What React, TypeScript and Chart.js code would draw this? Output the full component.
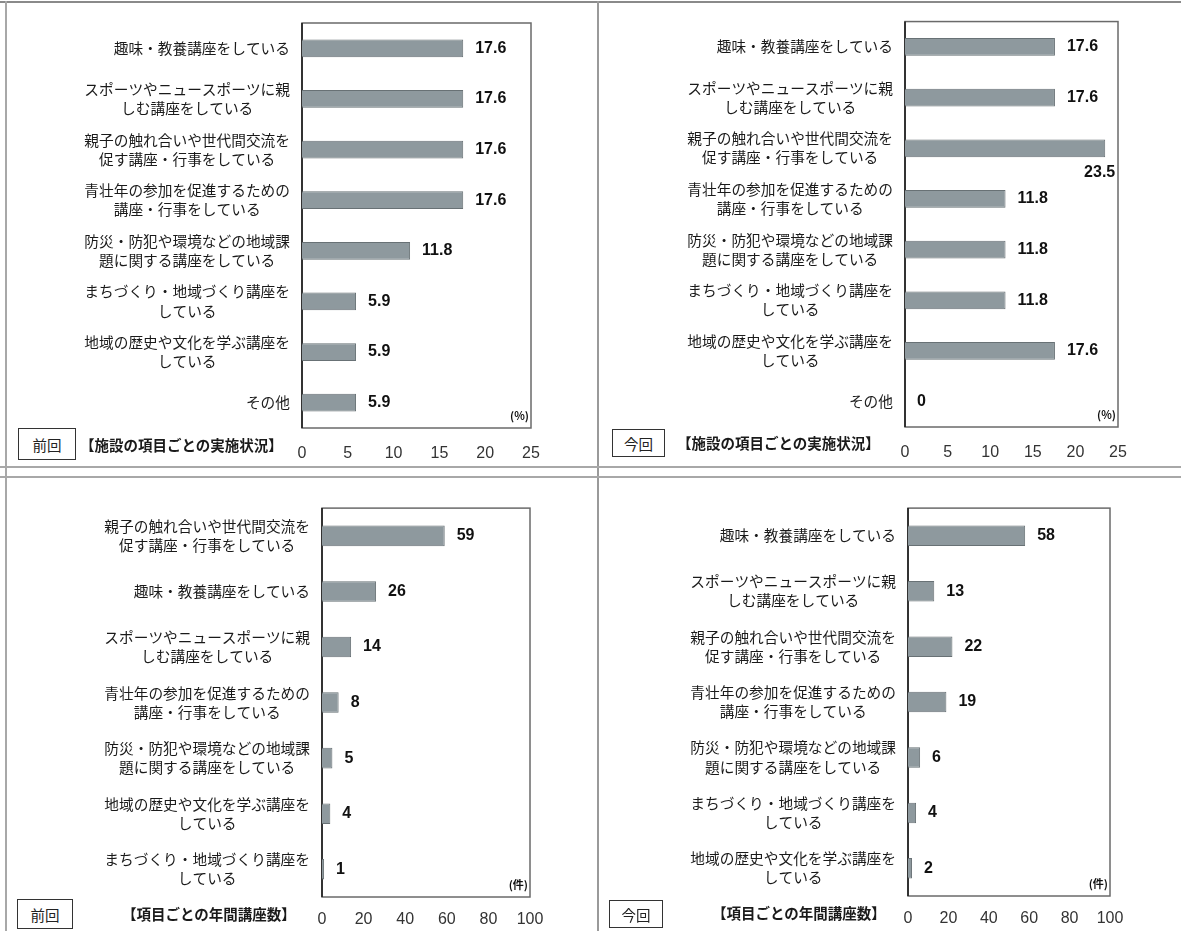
import React, { useEffect, useRef } from 'react';
import { Chart, registerables } from 'chart.js';

Chart.register(...registerables);

// ---- category labels ----
const LBL_HOBBY: string | string[] = '趣味・教養講座をしている';
const LBL_SPORTS = ['スポーツやニュースポーツに親', 'しむ講座をしている'];
const LBL_FAMILY = ['親子の触れ合いや世代間交流を', '促す講座・行事をしている'];
const LBL_YOUTH = ['青壮年の参加を促進するための', '講座・行事をしている'];
const LBL_DISASTER = ['防災・防犯や環境などの地域課', '題に関する講座をしている'];
const LBL_TOWN = ['まちづくり・地域づくり講座を', 'している'];
const LBL_HISTORY = ['地域の歴史や文化を学ぶ講座を', 'している'];
const LBL_OTHER = 'その他';

// ---- data ----
const facilityCategories = [LBL_HOBBY, LBL_SPORTS, LBL_FAMILY, LBL_YOUTH, LBL_DISASTER, LBL_TOWN, LBL_HISTORY, LBL_OTHER];
const facilityPrevValues = [17.6, 17.6, 17.6, 17.6, 11.8, 5.9, 5.9, 5.9];
const facilityCurrValues = [17.6, 17.6, 23.5, 11.8, 11.8, 11.8, 17.6, 0];

const coursePrevCategories = [LBL_FAMILY, LBL_HOBBY, LBL_SPORTS, LBL_YOUTH, LBL_DISASTER, LBL_HISTORY, LBL_TOWN];
const coursePrevValues = [59, 26, 14, 8, 5, 4, 1];
const courseCurrCategories = [LBL_HOBBY, LBL_SPORTS, LBL_FAMILY, LBL_YOUTH, LBL_DISASTER, LBL_TOWN, LBL_HISTORY];
const courseCurrValues = [58, 13, 22, 19, 6, 4, 2];

const pctAxis = { max: 25, step: 5 };
const countAxis = { max: 100, step: 20 };

const TITLE_FACILITY = '【施設の項目ごとの実施状況】';
const TITLE_COURSE = '【項目ごとの年間講座数】';
const TAG_PREV = '前回';
const TAG_CURR = '今回';
const UNIT_PCT = '(%)';
const UNIT_COUNT = '(件)';

const CJK = "'Noto Sans CJK JP', 'Noto Sans', sans-serif";
const NUM = "'Liberation Sans', Arial, sans-serif";

// pad shorter lines so that multi-line labels appear centred on each other
function centerLines(label: string | string[]): string | string[] {
  if (!Array.isArray(label)) return label;
  const max = Math.max(...label.map((l) => l.length));
  return label.map((l) => {
    const d = max - l.length;
    if (d <= 0) return l;
    return l + '\u3000'.repeat(Math.floor(d / 2)) + (d % 2 ? '\u2002' : '');
  });
}

type PanelCfg = {
  x: number; y: number; w: number; h: number;
  area: { left: number; top: number; right: number; bottom: number };
  categories: (string | string[])[];
  values: number[];
  axis: { max: number; step: number };
  tickPad: number;
  barPct: number;
  unit: string;
};

const decorPlugin = (unit: string) => ({
  id: 'decor',
  beforeDatasetsDraw(chart: any) {
    const { ctx, chartArea: a } = chart;
    ctx.save();
    ctx.strokeStyle = '#6a6a6a';
    ctx.lineWidth = 1.5;
    ctx.strokeRect(a.left, a.top, a.right - a.left, a.bottom - a.top);
    ctx.strokeStyle = '#151515';
    ctx.lineWidth = 1.5;
    ctx.beginPath();
    ctx.moveTo(a.left, a.top);
    ctx.lineTo(a.left, a.bottom);
    ctx.stroke();
    ctx.restore();
  },
  afterDatasetsDraw(chart: any) {
    const { ctx, chartArea: a } = chart;
    const meta = chart.getDatasetMeta(0);
    const data = chart.data.datasets[0].data as number[];
    ctx.save();
    ctx.fillStyle = '#111';
    ctx.font = `bold 16px ${NUM}`;
    ctx.textBaseline = 'middle';
    meta.data.forEach((bar: any, i: number) => {
      const txt = String(data[i]);
      const w = ctx.measureText(txt).width;
      let x = bar.x + 12;
      let y = bar.y;
      if (x + w > a.right) {
        ctx.textAlign = 'right';
        x = bar.x + 10;
        y = bar.y + 24;
      } else {
        ctx.textAlign = 'left';
      }
      ctx.fillText(txt, x, y);
    });
    ctx.font = `bold 11px ${CJK}`;
    ctx.textAlign = 'right';
    ctx.fillText(unit, a.right - 2, a.bottom - 12);
    ctx.restore();
  },
});

function BarPanel({ cfg }: { cfg: PanelCfg }) {
  const ref = useRef<HTMLCanvasElement>(null);
  useEffect(() => {
    const { w, h, area } = cfg;
    const chart = new Chart(ref.current as HTMLCanvasElement, {
      type: 'bar',
      data: {
        labels: cfg.categories.map(centerLines),
        datasets: [
          {
            data: cfg.values,
            backgroundColor: '#8e999e',
            borderColor: '#687175',
            borderWidth: 1,
            barPercentage: cfg.barPct,
            categoryPercentage: 1,
          },
        ],
      },
      options: {
        indexAxis: 'y',
        responsive: false,
        maintainAspectRatio: false,
        animation: false,
        layout: { padding: { top: area.top, right: w - area.right, left: 0, bottom: 0 } },
        plugins: { legend: { display: false }, tooltip: { enabled: false } },
        scales: {
          x: {
            min: 0,
            max: cfg.axis.max,
            ticks: { stepSize: cfg.axis.step, color: '#333', font: { family: NUM, size: 16 }, padding: cfg.tickPad, maxRotation: 0 },
            grid: { display: false, drawTicks: false },
            border: { display: false },
            afterFit: (s: any) => { s.height = h - area.bottom; },
          },
          y: {
            ticks: { color: '#1a1a1a', font: { family: CJK, size: 14.7, lineHeight: 1.3 }, padding: 12, autoSkip: false },
            grid: { display: false, drawTicks: false },
            border: { display: false },
            afterFit: (s: any) => { s.width = area.left; },
          },
        },
      } as any,
      plugins: [decorPlugin(cfg.unit)],
    });
    return () => chart.destroy();
  }, []);
  return (
    <div style={{ position: 'absolute', left: cfg.x, top: cfg.y, width: cfg.w, height: cfg.h }}>
      <canvas ref={ref} width={cfg.w} height={cfg.h} style={{ width: cfg.w, height: cfg.h, display: 'block' }} />
    </div>
  );
}

function Tag({ left, top, w, h, text }: { left: number; top: number; w: number; h: number; text: string }) {
  return (
    <div
      style={{
        position: 'absolute', left, top, width: w, height: h, boxSizing: 'border-box',
        border: '1.5px solid #333', background: '#fff', fontFamily: CJK, fontSize: 14.5,
        color: '#222', display: 'flex', alignItems: 'center', justifyContent: 'center',
      }}
    >
      {text}
    </div>
  );
}

function Title({ left, cy, text }: { left: number; cy: number; text: string }) {
  return (
    <div
      style={{
        position: 'absolute', left, top: cy - 11, height: 22, lineHeight: '22px', whiteSpace: 'nowrap',
        fontFamily: CJK, fontWeight: 'bold', fontSize: 14.5, color: '#1a1a1a',
      }}
    >
      {text}
    </div>
  );
}

const line = (s: React.CSSProperties) => <div style={{ position: 'absolute', background: '#a8a8a8', ...s }} />;

const panels: PanelCfg[] = [
  {
    x: 0, y: 0, w: 598, h: 467,
    area: { left: 302, top: 23, right: 531, bottom: 428 },
    categories: facilityCategories, values: facilityPrevValues, axis: pctAxis, tickPad: 16, barPct: 0.35, unit: UNIT_PCT,
  },
  {
    x: 598, y: 0, w: 583, h: 467,
    area: { left: 307, top: 21, right: 520, bottom: 427 },
    categories: facilityCategories, values: facilityCurrValues, axis: pctAxis, tickPad: 16, barPct: 0.35, unit: UNIT_PCT,
  },
  {
    x: 0, y: 477, w: 598, h: 454,
    area: { left: 322, top: 24, right: 530, bottom: 420 },
    categories: coursePrevCategories, values: coursePrevValues, axis: countAxis, tickPad: 13, barPct: 0.37, unit: UNIT_COUNT,
  },
  {
    x: 598, y: 477, w: 583, h: 454,
    area: { left: 310, top: 23, right: 512, bottom: 419 },
    categories: courseCurrCategories, values: courseCurrValues, axis: countAxis, tickPad: 13, barPct: 0.37, unit: UNIT_COUNT,
  },
];

export default function App() {
  return (
    <div style={{ position: 'absolute', left: 0, top: 0, width: 1181, height: 931, background: '#fff', overflow: 'hidden' }}>
      {panels.map((p, i) => <BarPanel key={i} cfg={p} />)}
      {line({ left: 0, top: 1, width: 1181, height: 2, background: '#8a8a8a' })}
      {line({ left: 5, top: 1, width: 2, height: 930 })}
      {line({ left: 597, top: 1, width: 2, height: 930, background: '#9a9a9a' })}
      {line({ left: 0, top: 466, width: 1181, height: 2 })}
      {line({ left: 0, top: 476, width: 1181, height: 2 })}
      <Tag left={18} top={428} w={58} h={32} text={TAG_PREV} />
      <Title left={80} cy={445} text={TITLE_FACILITY} />
      <Tag left={612} top={429} w={53} h={28} text={TAG_CURR} />
      <Title left={677} cy={443} text={TITLE_FACILITY} />
      <Tag left={17} top={899} w={56} h={30} text={TAG_PREV} />
      <Title left={122} cy={914} text={TITLE_COURSE} />
      <Tag left={609} top={900} w={54} h={28} text={TAG_CURR} />
      <Title left={712} cy={913} text={TITLE_COURSE} />
    </div>
  );
}
